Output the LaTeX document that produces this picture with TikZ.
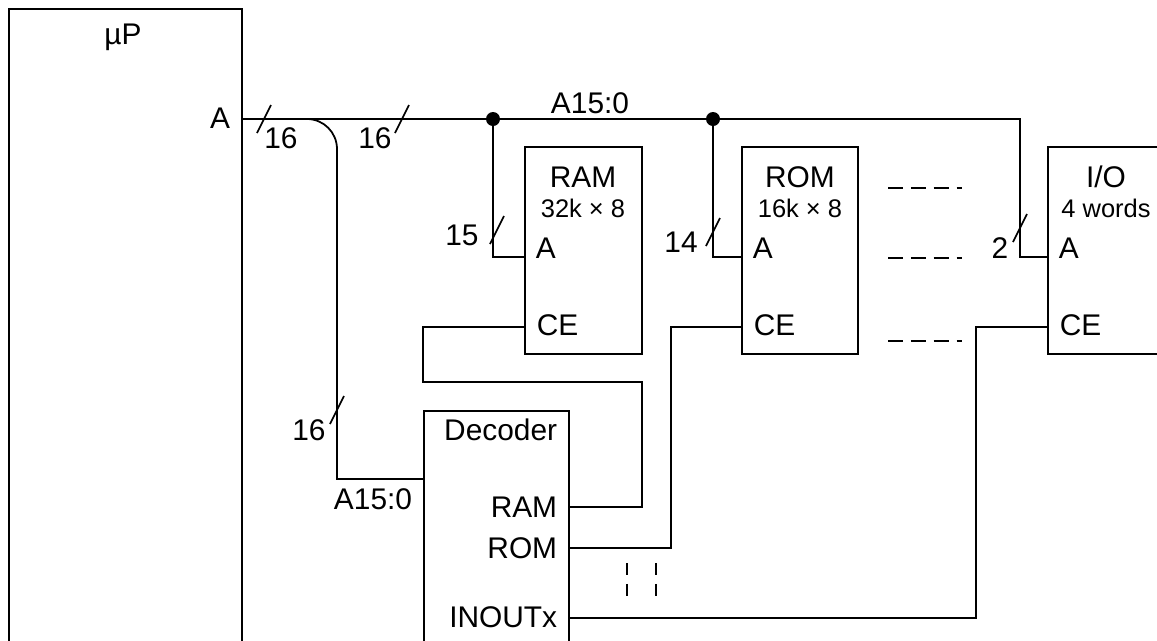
\documentclass[tikz,border=0pt]{standalone}
\usepackage{fontspec}
\setmainfont{Liberation Sans}
\usetikzlibrary{calc}

\begin{document}
\begin{tikzpicture}[x=0.02cm,y=-0.02cm, line width=1pt,
  block/.style={draw, rectangle, inner sep=0pt, outer sep=0pt},
  lbl/.style={inner sep=0pt, font=\fontsize{17}{20}\selectfont},
  sublbl/.style={inner sep=0pt, font=\fontsize{14.5}{17}\selectfont},
  gap/.style={dash pattern=on 8.5pt off 4.5pt, line cap=butt},
  vgap/.style={dash pattern=on 6.8pt off 5.1pt, line cap=butt}]

  \useasboundingbox (0,0) rectangle (1157,640);
  \clip (0,0) rectangle (1157,640);

  % ----- macro: traço de barramento -----
  \newcommand{\busmark}[1]{\draw (#1) ++(-7,14) -- ++(14,-28);}

  % ----- blocos -----
  \node[block, minimum width=4.66cm, minimum height=14cm]  (up)  at (125.5,359) {};
  \node[block, minimum width=2.34cm, minimum height=4.14cm] (ram) at (583.5,250.5) {};
  \node[block, minimum width=2.32cm, minimum height=4.14cm] (rom) at (800,250.5) {};
  \node[block, minimum width=2.8cm,  minimum height=4.14cm] (io)  at (1118,250.5) {};
  \node[block, minimum width=2.9cm,  minimum height=6cm]    (dec) at (496.5,561) {};

  % ----- pontos de ligação -----
  \coordinate (aout)   at (242,119);
  \coordinate (dot1)   at (493,119);
  \coordinate (dot2)   at (713,119);
  \coordinate (busend) at (1020,119);
  \coordinate (ramA)   at ($(ram.north west)+(0,110)$);
  \coordinate (romA)   at ($(rom.north west)+(0,110)$);
  \coordinate (ioA)    at ($(io.north west)+(0,110)$);
  \coordinate (ramCE)  at ($(ram.north west)+(0,180)$);
  \coordinate (romCE)  at ($(rom.north west)+(0,180)$);
  \coordinate (ioCE)   at ($(io.north west)+(0,180)$);
  \coordinate (decIn)  at ($(dec.north west)+(0,68)$);
  \coordinate (decRAM) at ($(dec.north east)+(0,96)$);
  \coordinate (decROM) at ($(dec.north east)+(0,137)$);
  \coordinate (decIO)  at ($(dec.north east)+(0,207)$);

  % ----- barramento de endereços -----
  \draw (aout) -- (busend) |- (ioA);
  \draw (dot1) |- (ramA);
  \draw (dot2) |- (romA);
  \fill (dot1) circle (0.14cm);
  \fill (dot2) circle (0.14cm);
  \draw[rounded corners=0.6cm] (300,119) -- (337,119) -- (337,300);
  \draw (337,300) |- (decIn);

  \busmark{264,119}
  \busmark{402,119}
  \busmark{337,410}
  \busmark{497,230}
  \busmark{713,232}
  \busmark{1020,228}

  % ----- seleção (CE) -----
  \draw (ramCE) -- ++(-102,0) |- (642,382) |- (decRAM);
  \draw (romCE) -- (671,327) |- (decROM);
  \draw (ioCE) -- (976,327) |- (decIO);

  % ----- reticências -----
  \draw[gap] (888,188) -- (962,188);
  \draw[gap] (888,258) -- (962,258);
  \draw[gap] (888,341) -- (962,341);
  \draw[vgap] (627,563) -- (627,597);
  \draw[vgap] (656,563) -- (656,597);

  % ----- rótulos -----
  \node[lbl, anchor=base]      (uplbl)   at (123,44)  {µP};
  \node[lbl, anchor=base east] (upA)     at (231,128) {A};
  \node[lbl, anchor=base]      (w1)      at (281,148) {16};
  \node[lbl, anchor=base]      (w2)      at (375,148) {16};
  \node[lbl, anchor=base]      (w3)      at (309,440) {16};
  \node[lbl, anchor=base]      (w4)      at (462,245) {15};
  \node[lbl, anchor=base]      (w5)      at (681,252) {14};
  \node[lbl, anchor=base]      (w6)      at (1000,258) {2};
  \node[lbl, anchor=base]      (busname) at (590,113) {A15:0};
  \node[lbl, anchor=base]      (decname) at (373,509) {A15:0};

  \node[lbl, anchor=base]         (ramT)  at (583,187) {RAM};
  \node[sublbl, anchor=base]      (ramS)  at (583,217) {32k × 8};
  \node[lbl, anchor=base west]    (ramAl) at (535,258) {A};
  \node[lbl, anchor=base west]    (ramCl) at (536,335) {CE};

  \node[lbl, anchor=base]         (romT)  at (800,187) {ROM};
  \node[sublbl, anchor=base]      (romS)  at (800,217) {16k × 8};
  \node[lbl, anchor=base west]    (romAl) at (752,258) {A};
  \node[lbl, anchor=base west]    (romCl) at (753,335) {CE};

  \node[lbl, anchor=base]         (ioT)   at (1106,187) {I/O};
  \node[sublbl, anchor=base]      (ioS)   at (1106,217) {4 words};
  \node[lbl, anchor=base west]    (ioAl)  at (1058,258) {A};
  \node[lbl, anchor=base west]    (ioCl)  at (1059,335) {CE};

  \node[lbl, anchor=base east]    (decT)  at (558,440) {Decoder};
  \node[lbl, anchor=base east]    (decRa) at (558,517) {RAM};
  \node[lbl, anchor=base east]    (decRo) at (558,558) {ROM};
  \node[lbl, anchor=base east]    (decIx) at (558,627) {INOUTx};

\end{tikzpicture}
\end{document}
